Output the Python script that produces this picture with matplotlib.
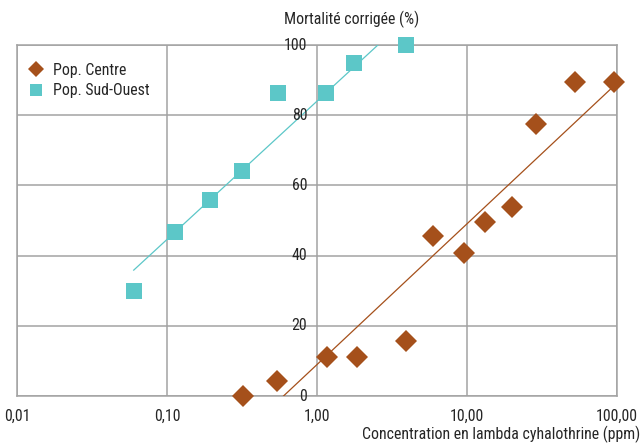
import numpy as np
import matplotlib
matplotlib.use("Agg")
import matplotlib.pyplot as plt
from matplotlib import font_manager as fm

# ---- data ----
centre_x = [0.32, 0.54, 1.17, 1.85, 3.92, 5.93, 9.55, 13.2, 19.95, 28.8, 52.5, 95.5]
centre_y = [0.0, 4.3, 11.1, 11.1, 15.7, 45.6, 40.7, 49.6, 53.8, 77.5, 89.5, 89.5]
sudouest_x = [0.060, 0.113, 0.194, 0.316, 0.55, 1.15, 1.77, 3.92]
sudouest_y = [30.0, 46.7, 55.8, 64.1, 86.3, 86.3, 94.9, 100.0]
x_ticks = [0.01, 0.1, 1, 10, 100]
x_ticklabels = ["0,01", "0,10", "1,00", "10,00", "100,00"]
y_ticks = [0, 20, 40, 60, 80, 100]
y_ticklabels = ["0", "20", "40", "60", "80", "100"]
series_names = ["Pop. Centre", "Pop. Sud-Ouest"]
y_title = "Mortalité corrigée (%)"
x_title = "Concentration en lambda cyhalothrine (ppm)"

# ---- style ----
avail = {f.name for f in fm.fontManager.ttflist}
fam = [f for f in ["Roboto Condensed", "Liberation Sans Narrow", "Liberation Sans", "DejaVu Sans"] if f in avail]
plt.rcParams['font.family'] = fam
TXT = "#262626"
GRID = "#A3A3A3"
BROWN = "#A5501B"
CYAN = "#5CC7C8"
FS = 11.4

fig = plt.figure(figsize=(6.41, 4.44), dpi=100)
ax = fig.add_axes([17/641, 1-396/444, 600/641, 351/444])
ax.set_xscale('log')
ax.set_xlim(0.01, 100)
ax.set_ylim(0, 100)

ax.set_xticks(x_ticks)
ax.set_xticklabels(x_ticklabels, fontsize=FS, color=TXT)
ax.xaxis.set_minor_locator(matplotlib.ticker.NullLocator())
ax.set_yticks(y_ticks)
ax.set_yticklabels([])
ax.tick_params(axis='both', length=0)
ax.tick_params(axis='x', pad=9)
ax.grid(True, color=GRID, linewidth=1.1)
ax.set_axisbelow(True)
for s in ax.spines.values():
    s.set_color(GRID)
    s.set_linewidth(1.1)

for y, lab in zip(y_ticks, y_ticklabels):
    ax.annotate(lab, xy=(1, y), xytext=(-7, 0), textcoords='offset points',
                ha='right', va='center', fontsize=FS, color=TXT, zorder=6,
                annotation_clip=False)

# trend lines (log-linear regression)
def trend(xs, ys, x0, x1, color):
    lx = np.log10(xs)
    b, a = np.polyfit(lx, ys, 1)
    xx = np.logspace(np.log10(x0), np.log10(x1), 200)
    ax.plot(xx, a + b * np.log10(xx), color=color, linewidth=0.9, zorder=3)

trend(centre_x, centre_y, min(centre_x), max(centre_x) * 1.05, BROWN)
trend(sudouest_x, sudouest_y, min(sudouest_x), max(sudouest_x), CYAN)

ax.plot(centre_x, centre_y, linestyle='none', marker='D', markersize=11.5,
        color=BROWN, markeredgewidth=0, label=series_names[0], clip_on=False, zorder=5)
ax.plot(sudouest_x, sudouest_y, linestyle='none', marker='s', markersize=12.2,
        color=CYAN, markeredgewidth=0, label=series_names[1], clip_on=False, zorder=5)

leg = ax.legend(loc='upper left', bbox_to_anchor=(-0.012, 0.99), frameon=False,
                fontsize=FS, handletextpad=0.3, labelspacing=0.35,
                markerscale=0.75, borderaxespad=0.5, handlelength=1.5)
for t in leg.get_texts():
    t.set_color(TXT)

fig.text(352/641, 1-19/444, y_title, ha='center', va='center', fontsize=FS, color=TXT)
fig.text(640/641, 1-434/444, x_title, ha='right', va='center', fontsize=FS, color=TXT)

fig.savefig("out.png", dpi=100)
